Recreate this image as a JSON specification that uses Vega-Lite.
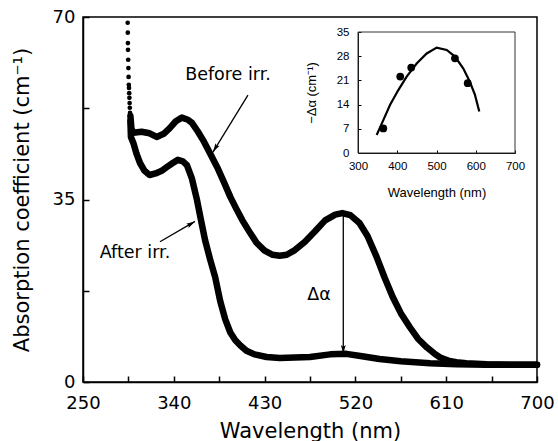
{
  "$schema": "https://vega.github.io/schema/vega-lite/v6.json",
  "width": 454,
  "height": 365,
  "autosize": {"type": "none"},
  "padding": {"left": 83, "top": 17, "right": 21, "bottom": 59},
  "background": "white",
  "config": {
    "view": {"stroke": "black", "strokeWidth": 1.5},
    "font": "DejaVu Sans",
    "axis": {"grid": false, "domainColor": "black", "tickColor": "black", "labelColor": "black", "titleColor": "black", "titleFontWeight": "normal"}
  },
  "datasets": {
    "spectra": [
      {"series": "before", "x": 297, "y": 51}, {"series": "before", "x": 298, "y": 48.6}, {"series": "before", "x": 300, "y": 47.8}, {"series": "before", "x": 308, "y": 48}, {"series": "before", "x": 316, "y": 47.7}, {"series": "before", "x": 323, "y": 47}, {"series": "before", "x": 330, "y": 47.6}, {"series": "before", "x": 336, "y": 48.7}, {"series": "before", "x": 342, "y": 50}, {"series": "before", "x": 348, "y": 50.7}, {"series": "before", "x": 354, "y": 50.3}, {"series": "before", "x": 358, "y": 49.7}, {"series": "before", "x": 364, "y": 48}, {"series": "before", "x": 369, "y": 46.4}, {"series": "before", "x": 376, "y": 43.8}, {"series": "before", "x": 383, "y": 41.2}, {"series": "before", "x": 390, "y": 38.2}, {"series": "before", "x": 396, "y": 35.5}, {"series": "before", "x": 402, "y": 33.2}, {"series": "before", "x": 408, "y": 31}, {"series": "before", "x": 415, "y": 28.8}, {"series": "before", "x": 422, "y": 26.7}, {"series": "before", "x": 430, "y": 25.2}, {"series": "before", "x": 438, "y": 24.4}, {"series": "before", "x": 445, "y": 24.2}, {"series": "before", "x": 452, "y": 24.4}, {"series": "before", "x": 460, "y": 25.3}, {"series": "before", "x": 470, "y": 26.9}, {"series": "before", "x": 480, "y": 28.9}, {"series": "before", "x": 490, "y": 31}, {"series": "before", "x": 500, "y": 32.1}, {"series": "before", "x": 507, "y": 32.4}, {"series": "before", "x": 515, "y": 32}, {"series": "before", "x": 524, "y": 30.5}, {"series": "before", "x": 532, "y": 28}, {"series": "before", "x": 541, "y": 24}, {"series": "before", "x": 549, "y": 20}, {"series": "before", "x": 557, "y": 16.3}, {"series": "before", "x": 565, "y": 13.2}, {"series": "before", "x": 574, "y": 10.5}, {"series": "before", "x": 582, "y": 8.3}, {"series": "before", "x": 591, "y": 6.6}, {"series": "before", "x": 598, "y": 5.5}, {"series": "before", "x": 604, "y": 4.7}, {"series": "before", "x": 612, "y": 4.1}, {"series": "before", "x": 620, "y": 3.8}, {"series": "before", "x": 630, "y": 3.6}, {"series": "before", "x": 650, "y": 3.4}, {"series": "before", "x": 675, "y": 3.3}, {"series": "before", "x": 700, "y": 3.3},
      {"series": "after", "x": 297, "y": 50}, {"series": "after", "x": 297.5, "y": 47}, {"series": "after", "x": 300, "y": 45.8}, {"series": "after", "x": 303, "y": 43.8}, {"series": "after", "x": 306.5, "y": 42}, {"series": "after", "x": 311, "y": 40.5}, {"series": "after", "x": 316, "y": 39.7}, {"series": "after", "x": 322, "y": 40}, {"series": "after", "x": 328, "y": 40.5}, {"series": "after", "x": 333, "y": 41.2}, {"series": "after", "x": 339, "y": 42}, {"series": "after", "x": 344, "y": 42.6}, {"series": "after", "x": 349, "y": 42.3}, {"series": "after", "x": 353, "y": 41.6}, {"series": "after", "x": 358, "y": 39}, {"series": "after", "x": 363, "y": 34.9}, {"series": "after", "x": 367, "y": 31}, {"series": "after", "x": 371, "y": 27.2}, {"series": "after", "x": 376, "y": 23.5}, {"series": "after", "x": 381, "y": 20.1}, {"series": "after", "x": 386, "y": 15.5}, {"series": "after", "x": 391, "y": 12}, {"series": "after", "x": 396, "y": 9.5}, {"series": "after", "x": 401, "y": 8}, {"series": "after", "x": 406, "y": 7}, {"series": "after", "x": 412, "y": 6}, {"series": "after", "x": 420, "y": 5.3}, {"series": "after", "x": 432, "y": 4.8}, {"series": "after", "x": 445, "y": 4.6}, {"series": "after", "x": 460, "y": 4.7}, {"series": "after", "x": 475, "y": 4.8}, {"series": "after", "x": 495, "y": 5.3}, {"series": "after", "x": 511, "y": 5.4}, {"series": "after", "x": 525, "y": 5}, {"series": "after", "x": 544, "y": 4.4}, {"series": "after", "x": 565, "y": 4}, {"series": "after", "x": 594, "y": 3.6}, {"series": "after", "x": 620, "y": 3.4}, {"series": "after", "x": 650, "y": 3.3}, {"series": "after", "x": 700, "y": 3.3}
    ],
    "dots": [
      {"x": 294.3, "y": 68.9}, {"x": 294.4, "y": 67}, {"x": 294.5, "y": 65}, {"x": 294.6, "y": 63.7}, {"x": 294.8, "y": 61.8}, {"x": 295, "y": 60.2}, {"x": 295.2, "y": 58.5}, {"x": 295.4, "y": 57}, {"x": 295.6, "y": 56.4}, {"x": 295.8, "y": 55.4}, {"x": 296, "y": 54.5}, {"x": 296.2, "y": 53.5}, {"x": 296.4, "y": 52.6}, {"x": 296.6, "y": 51.6}
    ],
    "arrows": [
      {"name": "before", "x": 413.5, "y": 55, "x2": 378.8, "y2": 44.1},
      {"name": "after", "x": 326.3, "y": 26.9, "x2": 361, "y2": 30.8},
      {"name": "delta", "x": 508, "y": 32.3, "x2": 508, "y2": 5.4}
    ],
    "labels": [
      {"label": "Before irr.", "x": 393.7, "y": 58.9},
      {"label": "After irr.", "x": 301.5, "y": 24.7},
      {"label": "Δα", "x": 484, "y": 16.7}
    ],
    "insetPoints": [
      {"x": 364.5, "y": 7.1}, {"x": 407.6, "y": 22.1}, {"x": 435.6, "y": 24.7}, {"x": 547, "y": 27.4}, {"x": 579.5, "y": 20.2}
    ],
    "insetCurve": [
      {"x": 347.6, "y": 5.2}, {"x": 364.5, "y": 9.5}, {"x": 381.5, "y": 13.9}, {"x": 402.7, "y": 18.2}, {"x": 424, "y": 22.1}, {"x": 449.5, "y": 25.9}, {"x": 475, "y": 28.8}, {"x": 500.5, "y": 30.5}, {"x": 526, "y": 29.8}, {"x": 547, "y": 27.9}, {"x": 568, "y": 24.5}, {"x": 585, "y": 20.6}, {"x": 598, "y": 16.8}, {"x": 609, "y": 12}
    ],
    "insetBox": [
      {"x": 300, "x2": 700, "y": 0, "y2": 35}
    ]
  },
  "layer": [
    {
      "layer": [
        {
          "data": {"name": "spectra"},
          "mark": {"type": "line", "color": "black", "strokeWidth": 6.5, "strokeCap": "round", "strokeJoin": "round"},
          "encoding": {
            "x": {"field": "x", "type": "quantitative", "scale": {"domain": [250, 700], "nice": false, "zero": false},
              "axis": {"title": "Wavelength (nm)", "values": [250, 295, 340, 385, 430, 475, 520, 565, 610, 655, 700], "labelExpr": "(datum.value - 250) % 90 == 0 ? datum.value : ''", "tickSize": -6, "labelPadding": 18, "labelFontSize": 18, "labelFont": "DejaVu Sans", "titleFontSize": 21, "titleFont": "DejaVu Sans", "titlePadding": 8, "domainWidth": 1.5, "tickWidth": 1.5, "labelFlush": false}},
            "y": {"field": "y", "type": "quantitative", "scale": {"domain": [0, 70], "nice": false, "zero": false},
              "axis": {"title": "Absorption coefficient (cm⁻¹)", "values": [0, 17.5, 35, 52.5, 70], "labelExpr": "datum.value % 35 == 0 ? datum.value : ''", "tickSize": -6, "labelPadding": 14, "labelFontSize": 18, "labelFont": "DejaVu Sans", "titleFontSize": 21, "titleFont": "DejaVu Sans", "titlePadding": 20, "domainWidth": 1.5, "tickWidth": 1.5, "labelFlush": false}},
            "detail": {"field": "series"}
          }
        },
        {
          "data": {"name": "dots"},
          "mark": {"type": "point", "filled": true, "color": "black", "opacity": 1, "size": 22},
          "encoding": {
            "x": {"field": "x", "type": "quantitative"},
            "y": {"field": "y", "type": "quantitative"}
          }
        },
        {
          "data": {"name": "arrows"},
          "mark": {"type": "rule", "color": "black", "strokeWidth": 1.3},
          "encoding": {
            "x": {"field": "x", "type": "quantitative"},
            "y": {"field": "y", "type": "quantitative"},
            "x2": {"field": "x2"},
            "y2": {"field": "y2"}
          }
        },
        {
          "data": {"name": "arrows"},
          "transform": [{"filter": "datum.name == 'delta'"}],
          "mark": {"type": "point", "shape": "M0,0 L-0.6,-2.2 L0,-1.8 L0.6,-2.2 Z", "filled": true, "color": "black", "opacity": 1, "size": 64, "angle": 0},
          "encoding": {
            "x": {"field": "x2", "type": "quantitative"},
            "y": {"field": "y2", "type": "quantitative"}
          }
        },
        {
          "data": {"name": "arrows"},
          "transform": [{"filter": "datum.name == 'before'"}],
          "mark": {"type": "point", "shape": "M0,0 L-0.6,-2.2 L0,-1.8 L0.6,-2.2 Z", "filled": true, "color": "black", "opacity": 1, "size": 64, "angle": 31.6},
          "encoding": {
            "x": {"field": "x2", "type": "quantitative"},
            "y": {"field": "y2", "type": "quantitative"}
          }
        },
        {
          "data": {"name": "arrows"},
          "transform": [{"filter": "datum.name == 'after'"}],
          "mark": {"type": "point", "shape": "M0,0 L-0.6,-2.2 L0,-1.8 L0.6,-2.2 Z", "filled": true, "color": "black", "opacity": 1, "size": 64, "angle": 240},
          "encoding": {
            "x": {"field": "x2", "type": "quantitative"},
            "y": {"field": "y2", "type": "quantitative"}
          }
        },
        {
          "data": {"name": "labels"},
          "mark": {"type": "text", "font": "DejaVu Sans", "fontSize": 17.5, "color": "black", "align": "center", "baseline": "middle"},
          "encoding": {
            "x": {"field": "x", "type": "quantitative"},
            "y": {"field": "y", "type": "quantitative"},
            "text": {"field": "label"}
          }
        }
      ]
    },
    {
      "layer": [
        {
          "data": {"name": "insetBox"},
          "mark": {"type": "rect", "fillOpacity": 0, "stroke": "#333", "strokeWidth": 1},
          "encoding": {
            "x": {"field": "x", "type": "quantitative", "scale": {"domain": [300, 700], "range": [275, 432], "nice": false, "zero": false},
              "axis": {"orient": "bottom", "offset": -229, "title": "Wavelength (nm)", "values": [300, 400, 500, 600, 700], "tickSize": -3, "labelPadding": 10, "labelFontSize": 11.5, "labelFont": "Liberation Sans", "titleFontSize": 13, "titleFont": "Liberation Sans", "titlePadding": 15, "domainWidth": 1, "labelFlush": false}},
            "y": {"field": "y", "type": "quantitative", "scale": {"domain": [0, 35], "range": [136, 15], "nice": false, "zero": false},
              "axis": {"orient": "left", "offset": -275, "title": "−Δα (cm⁻¹)", "values": [0, 7, 14, 21, 28, 35], "tickSize": -3, "labelPadding": 12, "labelFontSize": 11.5, "labelFont": "Liberation Sans", "titleFontSize": 13, "titleFont": "Liberation Sans", "titlePadding": 18, "domainWidth": 1, "labelFlush": false}},
            "x2": {"field": "x2"},
            "y2": {"field": "y2"}
          }
        },
        {
          "data": {"name": "insetCurve"},
          "mark": {"type": "line", "color": "black", "strokeWidth": 2.2},
          "encoding": {
            "x": {"field": "x", "type": "quantitative"},
            "y": {"field": "y", "type": "quantitative"}
          }
        },
        {
          "data": {"name": "insetPoints"},
          "mark": {"type": "point", "filled": true, "color": "black", "opacity": 1, "size": 60},
          "encoding": {
            "x": {"field": "x", "type": "quantitative"},
            "y": {"field": "y", "type": "quantitative"}
          }
        }
      ]
    }
  ],
  "resolve": {"scale": {"x": "independent", "y": "independent"}, "axis": {"x": "independent", "y": "independent"}}
}
